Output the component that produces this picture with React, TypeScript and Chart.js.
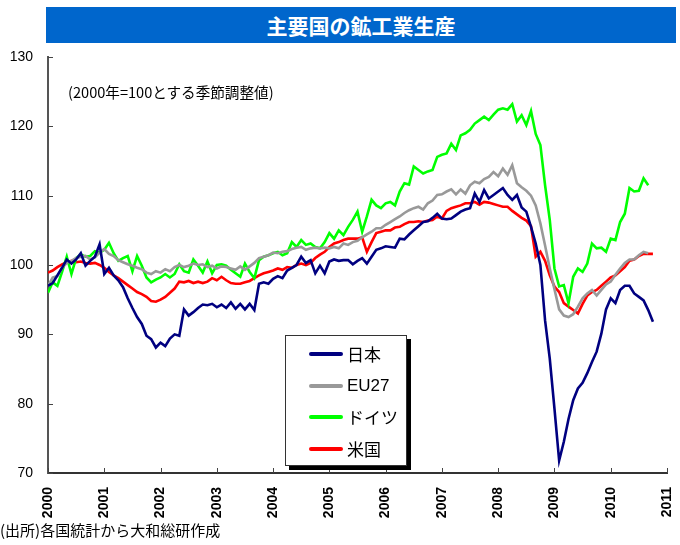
import React, { useEffect, useRef } from "react";
import { Chart, registerables } from "chart.js";
Chart.register(...registerables);

const titleText = "主要国の鉱工業生産";
const noteText = "(2000年=100とする季節調整値)";
const sourceText = "(出所)各国統計から大和総研作成";
const startYear = 2000;
const yearTicks = [2000, 2001, 2002, 2003, 2004, 2005, 2006, 2007, 2008, 2009, 2010, 2011];
const yTicks = [70, 80, 90, 100, 110, 120, 130];
const seriesNames = ["日本", "EU27", "ドイツ", "米国"];
const seriesColors = ["#000080", "#999999", "#00FF00", "#FF0000"];

// monthly values from Jan 2000
const japan = [
  97.0, 97.4, 98.5, 99.6, 100.8, 100.2, 100.8, 101.7, 99.9, 100.6,
  101.2, 103.0, 98.7, 99.6, 98.5, 97.8, 96.8, 95.2, 93.8, 92.5,
  91.5, 89.8, 89.3, 88.1, 88.8, 88.3, 89.4, 90.0, 89.8, 93.6,
  92.7, 93.2, 93.8, 94.3, 94.2, 94.4, 93.9, 94.3, 93.8, 94.6,
  93.7, 94.4, 93.6, 94.4, 93.5, 97.3, 97.5, 97.3, 98.0, 98.4,
  98.1, 99.2, 99.6, 100.0, 101.2, 100.3, 100.7, 98.8, 99.9, 98.8,
  100.5, 100.8, 100.6, 100.7, 100.7, 100.1, 100.6, 101.0, 100.2, 101.2,
  102.2, 102.4, 102.7, 102.6, 102.5, 103.8, 103.7, 104.4, 105.0, 105.6,
  106.2, 106.3, 106.8, 107.4, 106.7, 106.6, 106.7, 107.2, 107.7, 108.0,
  108.2, 110.3, 109.1, 110.8, 109.6, 110.1, 110.6, 111.1, 110.1, 109.4,
  110.1, 108.3, 107.7, 105.5, 103.1, 100.0, 92.0, 86.5, 79.3, 71.8,
  74.5, 77.8, 80.5, 82.2, 83.0, 84.4, 86.0, 87.5, 90.1, 93.6,
  95.2, 94.5, 96.4, 97.0, 97.0, 95.9, 95.4, 94.9, 93.5, 91.8,
];
const eu27 = [
  97.0, 98.2, 98.4, 99.6, 100.3, 100.6, 101.0, 101.2, 101.3, 100.8,
  101.1, 101.8, 102.3, 101.6, 101.3, 100.7, 100.4, 100.1, 99.9, 99.6,
  99.4, 98.9, 98.7, 99.1, 98.9, 99.4, 99.1, 99.7, 100.0, 99.7,
  99.9, 100.2, 100.0, 100.1, 99.7, 99.9, 99.5, 99.8, 99.7, 99.5,
  99.3, 99.8, 99.3, 99.8, 100.3, 101.0, 101.2, 101.4, 101.8, 101.7,
  101.9, 102.0, 102.3, 102.5, 102.6, 102.2, 102.4, 102.5, 102.4, 102.5,
  102.4, 102.6, 102.4, 103.1, 102.9, 103.3, 103.5, 104.0, 104.4, 104.8,
  105.3, 105.3, 105.8, 106.2, 106.6, 107.0, 107.5, 107.9, 108.2, 108.4,
  108.0, 108.9, 109.3, 110.1, 110.2, 110.6, 110.9, 110.2, 110.9, 110.3,
  111.5, 112.0, 111.8, 112.4, 112.7, 113.4, 112.8, 113.9, 113.0, 114.4,
  111.8, 111.2, 110.7, 110.0, 108.6, 106.0, 102.8, 99.5, 96.5, 93.6,
  92.7, 92.5, 92.9, 94.0, 95.2, 95.9, 96.4, 95.6, 96.4, 97.2,
  97.6, 98.6, 99.5, 100.3, 100.8, 100.8, 101.4, 101.9, 101.7,
];
const germany = [
  96.0, 97.5, 97.0, 99.0, 101.2, 98.7, 101.0, 101.5, 101.2, 101.3,
  102.0, 101.8, 102.2, 103.2, 101.7, 100.6, 101.0, 101.3, 99.1, 101.3,
  99.9, 98.2, 97.5, 97.9, 98.2, 98.7, 98.2, 98.7, 100.1, 99.1,
  98.9, 100.8, 99.9, 98.9, 100.5, 98.8, 100.0, 100.1, 99.9, 99.3,
  98.8, 98.3, 100.2, 99.0, 98.1, 100.7, 101.2, 101.4, 101.7, 101.9,
  101.4, 101.7, 103.3, 102.6, 103.6, 102.9, 103.1, 102.6, 102.4, 103.3,
  104.6, 103.8, 105.0, 104.3, 105.5, 106.5, 107.7, 104.8, 107.0, 109.4,
  108.6, 108.2, 108.9, 109.1, 108.6, 110.6, 111.8, 111.6, 114.2, 113.7,
  113.2, 113.5, 113.7, 115.6, 115.9, 116.1, 117.5, 116.6, 118.7, 119.0,
  119.5, 120.4, 120.9, 121.4, 120.9, 121.7, 122.4, 122.6, 122.4, 123.2,
  120.7, 121.6, 120.2, 122.2, 118.9, 117.3, 111.5, 106.5, 99.5, 96.9,
  97.1, 94.5, 98.3, 99.5, 99.0, 100.2, 103.1, 102.4, 102.5, 101.9,
  103.8, 103.6, 106.2, 107.4, 111.1, 110.6, 110.7, 112.5, 111.5,
];
const usa = [
  98.9, 99.2, 99.7, 100.1, 100.4, 100.6, 100.4, 100.5, 100.3, 100.2,
  100.3, 100.0, 99.6, 99.0, 98.5, 98.1, 97.6, 97.1, 96.6, 96.1,
  95.8, 95.4, 94.8, 94.7, 95.0, 95.4, 96.0, 96.6, 97.6, 97.5,
  97.7, 97.4, 97.6, 97.4, 97.6, 98.1, 97.8, 98.3, 97.8, 97.4,
  97.3, 97.3, 97.5, 97.7, 98.1, 98.5, 98.8, 99.0, 99.2, 99.5,
  99.3, 99.7, 99.6, 100.0, 100.2, 100.0, 100.3, 101.0, 101.5, 101.9,
  102.6, 103.1, 103.3, 103.6, 103.8, 103.8, 103.8, 104.0, 101.9, 103.3,
  104.6, 104.8, 105.0, 105.0, 105.4, 105.5, 105.9, 106.2, 106.2, 106.3,
  106.2, 106.4, 106.5, 107.0, 106.7, 107.8, 108.2, 108.4, 108.6, 108.9,
  108.9, 109.1, 108.7, 109.1, 109.0, 108.8, 108.6, 108.4, 108.4, 107.8,
  107.3, 106.8, 106.4, 105.6, 101.2, 101.9, 100.6, 98.5, 96.9, 96.1,
  94.5, 94.0, 93.5, 93.0, 94.4, 95.6, 96.1, 96.4, 97.0, 97.6,
  98.2, 98.5, 99.1, 99.7, 100.6, 100.8, 101.3, 101.6, 101.6, 101.6,
];
const seriesValues = [japan, eu27, germany, usa];

const toPoints = (vals: number[]) => vals.map((v, i) => ({ x: startYear + i / 12, y: v }));

const inwardTicks = {
  id: "inwardTicks",
  afterDraw(chart: any) {
    const { ctx, chartArea, scales } = chart;
    const xs = scales.x;
    const ys = scales.y;
    ctx.save();
    ctx.strokeStyle = "#444";
    ctx.lineWidth = 1;
    yTicks.forEach((v) => {
      const py = Math.round(ys.getPixelForValue(v)) + 0.5;
      ctx.beginPath();
      ctx.moveTo(chartArea.left, py);
      ctx.lineTo(chartArea.left + 5, py);
      ctx.stroke();
    });
    yearTicks.forEach((v) => {
      const px = Math.round(xs.getPixelForValue(v)) + 0.5;
      ctx.beginPath();
      ctx.moveTo(px, chartArea.bottom);
      ctx.lineTo(px, chartArea.bottom - 5);
      ctx.stroke();
    });
    ctx.restore();
  },
};

export default function App() {
  const canvasRef = useRef<HTMLCanvasElement | null>(null);

  useEffect(() => {
    if (!canvasRef.current) return;
    const chart = new Chart(canvasRef.current, {
      type: "line",
      data: {
        datasets: seriesNames.map((name, i) => ({
          label: name,
          data: toPoints(seriesValues[i]),
          borderColor: seriesColors[i],
          backgroundColor: seriesColors[i],
          borderWidth: 2.6,
          pointRadius: 0,
          tension: 0,
          fill: false,
        })),
      },
      options: {
        responsive: false,
        animation: false,
        devicePixelRatio: 1,
        layout: { padding: { left: 0, top: 57, right: 13, bottom: 0 } },
        plugins: { legend: { display: false }, tooltip: { enabled: false } },
        scales: {
          x: {
            type: "linear",
            min: 2000,
            max: 2011,
            afterFit: (s: any) => {
              s.height = 72;
              s.paddingRight = 0;
            },
            afterBuildTicks: (s: any) => {
              s.ticks = yearTicks.map((v) => ({ value: v }));
            },
            ticks: {
              autoSkip: false,
              minRotation: 90,
              maxRotation: 90,
              padding: 14,
              color: "#000",
              font: { family: "'Liberation Sans', Arial, sans-serif", size: 14, weight: "bold" },
              callback: (v: any) => String(v),
            },
            grid: { display: true, drawOnChartArea: false, drawTicks: false },
            border: { display: true, color: "#333", width: 2 },
          },
          y: {
            min: 70,
            max: 130,
            afterFit: (s: any) => {
              s.width = 48;
            },
            afterBuildTicks: (s: any) => {
              s.ticks = yTicks.map((v) => ({ value: v }));
            },
            ticks: {
              padding: 15,
              color: "#000",
              font: { family: "'Liberation Sans', Arial, sans-serif", size: 14 },
            },
            grid: { display: true, drawOnChartArea: false, drawTicks: false },
            border: { display: true, color: "#555", width: 2 },
          },
        },
      },
      plugins: [inwardTicks],
    });
    return () => chart.destroy();
  }, []);

  const jp = "'Noto Sans CJK JP', 'Liberation Sans', sans-serif";

  return (
    <div style={{ position: "fixed", left: 0, top: 0, width: 680, height: 545, background: "#fff", overflow: "hidden" }}>
      <canvas ref={canvasRef} width={680} height={545} style={{ position: "absolute", left: 0, top: 0, width: 680, height: 545 }} />
      <div
        style={{
          position: "absolute",
          left: 46,
          top: 7,
          width: 630,
          height: 36,
          background: "#0066CC",
          color: "#fff",
          fontFamily: jp,
          fontWeight: "bold",
          fontSize: 21,
          lineHeight: "36px",
          textAlign: "center",
        }}
      >
        {titleText}
      </div>
      <div style={{ position: "absolute", left: 68, top: 82, fontFamily: jp, fontSize: 14.6, lineHeight: "20px", color: "#000", whiteSpace: "nowrap" }}>
        {noteText}
      </div>
      <div style={{ position: "absolute", left: 0, top: 520, fontFamily: jp, fontSize: 15, lineHeight: "20px", color: "#000", whiteSpace: "nowrap" }}>
        {sourceText}
      </div>
      <div
        style={{
          position: "absolute",
          left: 285,
          top: 335,
          width: 122,
          height: 131,
          boxSizing: "border-box",
          border: "1px solid #333",
          background: "#fff",
          boxShadow: "4px 4px 0 #000",
        }}
      >
        {seriesNames.map((name, i) => (
          <div key={name} style={{ position: "absolute", left: 0, top: 6 + i * 31.5, height: 24, width: 120 }}>
            <div style={{ position: "absolute", left: 23, top: 10, width: 34, height: 4, borderRadius: 2, background: seriesColors[i] }} />
            <div
              style={{
                position: "absolute",
                left: 61,
                top: 0,
                fontFamily: name === "EU27" ? "'Liberation Sans', Arial, sans-serif" : jp,
                fontSize: 17,
                lineHeight: "24px",
                color: "#000",
                whiteSpace: "nowrap",
              }}
            >
              {name}
            </div>
          </div>
        ))}
      </div>
    </div>
  );
}
